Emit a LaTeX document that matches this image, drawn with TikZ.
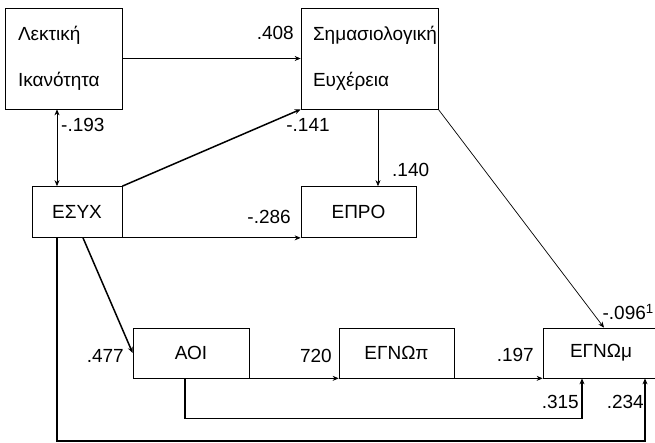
\documentclass[tikz,border=0pt]{standalone}
\usepackage{fontspec}
\setmainfont{Liberation Sans}
\usetikzlibrary{arrows.meta,calc}

\tikzset{
  var/.style    = {
    draw        = black,
    line width  = 0.7pt,
    fill        = white,
    inner sep   = 0pt,
    minimum height = 51pt,
    font        = \fontsize{19}{22}\selectfont
  },
  bigvar/.style = {
    draw        = black,
    line width  = 0.7pt,
    fill        = white,
    inner xsep  = 13pt,
    inner ysep  = 0pt,
    minimum height = 101pt,
    align       = left,
    font        = \fontsize{19}{22}\selectfont
  },
  coef/.style   = {
    inner sep   = 0pt,
    font        = \fontsize{19}{22}\selectfont
  },
  path/.style   = {->, line width = 0.7pt},
  thickpath/.style = {->, line width = 1.5pt}
}

\begin{document}
\begin{tikzpicture}[x=1pt, y=-1pt, >={Stealth[length=6pt,width=5pt]}]
  \useasboundingbox (0,0) rectangle (655,443);

  % variables
  \node[bigvar, text width=91pt] (lex) at (63.5,58.5) {Λεκτική\\[24pt]Ικανότητα};
  \node[bigvar, text width=113pt, inner xsep=12pt] (sem) at (369.5,58.5) {Σημασιολογική\\[24pt]Ευχέρεια};
  \node[var, minimum width=90pt]  (esyx) at (77,212)    {ΕΣΥΧ};
  \node[var, minimum width=115pt] (epro) at (358.5,212) {ΕΠΡΟ};
  \node[var, minimum width=116pt, minimum height=50pt] (aoi)  at (191,353)   {ΑΟΙ};
  \node[var, minimum width=115pt, minimum height=50pt] (egnp) at (396.5,353) {ΕΓΝΩπ};
  \node[var, minimum width=116pt, minimum height=50pt] (egnm) at (601,353)   {ΕΓΝΩμ};

  % bus positions
  \coordinate (lexbus)  at (57,0);
  \coordinate (aoibus)  at (83,0);
  \coordinate (probus)  at (378,0);
  \coordinate (mtop)    at (604,0);
  \coordinate (mfirst)  at (582,0);
  \coordinate (aoidown) at (185,0);
  \coordinate (loop)    at (645,441);

  % paths
  \draw[path] (lex.east) -- (sem.west);
  \draw[path, <->] (lex.south -| lexbus) -- (esyx.north -| lexbus);
  \draw[thickpath] (esyx.north east) -- (sem.south west);
  \draw[path, line width=0.5pt] (sem.south -| probus) -- (epro.north -| probus);
  \draw[path] (esyx.south east) -- (epro.south west);
  \draw[path] (sem.south east) -- (egnm.north -| mtop);
  \draw[thickpath] (esyx.south -| aoibus) -- (aoi.west);
  \draw[path] (aoi.south east) -- (egnp.south west);
  \draw[path] (egnp.south east) -- (egnm.south west);
  \draw[thickpath] (aoi.south -| aoidown) -- ++(0,40) -| (egnm.south -| mfirst);
  \draw[thickpath] (esyx.south -| lexbus) |- (loop) -- (egnm.south -| loop);

  % coefficients
  \node[coef, anchor=east] (c408) at (294,33)  {.408};
  \node[coef, anchor=west] (c193) at (61,125)  {-.193};
  \node[coef]              (c141) at (308,125) {-.141};
  \node[coef, anchor=west] (c140) at (392,170) {.140};
  \node[coef, anchor=east] (c286) at (291,217) {-.286};
  \node[coef, anchor=east] (c096) at (654,312) {-.096\textsuperscript{1}};
  \node[coef, anchor=east] (c477) at (124,356) {.477};
  \node[coef, anchor=east] (c720) at (332,356) {720};
  \node[coef, anchor=east] (c197) at (534,355) {.197};
  \node[coef, anchor=east] (c315) at (579,402) {.315};
  \node[coef, anchor=east] (c234) at (644,402) {.234};
\end{tikzpicture}
\end{document}
